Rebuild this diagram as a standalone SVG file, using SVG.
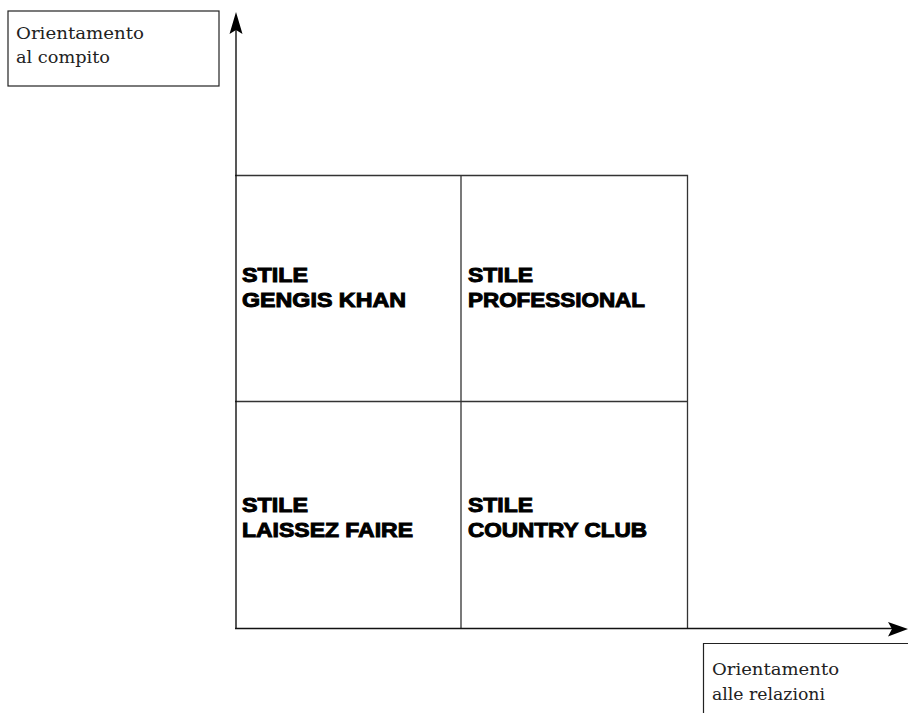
<svg xmlns="http://www.w3.org/2000/svg" width="908" height="713" viewBox="0 0 908 713">
<style>
.lbl{font-family:"DejaVu Serif","Liberation Serif",serif;font-size:16.5px;fill:#222}
.st{font-family:"Liberation Sans",Arial,sans-serif;font-weight:bold;font-size:21px;fill:#000;stroke:#000;stroke-width:1}
.grid{fill:none;stroke:#333;stroke-width:1.3}
.axis{fill:none;stroke:#111;stroke-width:1.4}
.box{fill:none;stroke:#222;stroke-width:1.2}
</style>
<rect width="908" height="713" fill="#fff"/>
<g id="label-compito">
<rect class="box" x="8" y="11" width="211" height="75"/>
<text class="lbl" x="16" y="39" textLength="128" lengthAdjust="spacingAndGlyphs">Orientamento</text>
<text class="lbl" x="16" y="63" textLength="94" lengthAdjust="spacingAndGlyphs">al compito</text>
</g>
<g id="label-relazioni">
<path class="box" d="M703.5 713 V643.5 H910"/>
<text class="lbl" x="712" y="675" textLength="127" lengthAdjust="spacingAndGlyphs">Orientamento</text>
<text class="lbl" x="712" y="700" textLength="113" lengthAdjust="spacingAndGlyphs">alle relazioni</text>
</g>
<g id="grid">
<path class="grid" d="M235 175.5 H687.5 V628 M461 175 V628 M235 401.5 H687.5"/>
</g>
<g id="connectors">
<path class="axis" d="M236 628.5 V25"/>
<path d="M236 12 L242.5 34 L236 30 L229.5 34 Z" fill="#000"/>
<path class="axis" d="M235 628.5 H896"/>
<path d="M908 629 L888 622 L892 629 L888 636.5 Z" fill="#000"/>
</g>
<g id="gengis">
<text class="st" x="242" y="282" textLength="66" lengthAdjust="spacingAndGlyphs">STILE</text>
<text class="st" x="242" y="307" textLength="164" lengthAdjust="spacingAndGlyphs">GENGIS KHAN</text>
</g>
<g id="professional">
<text class="st" x="468" y="282" textLength="65" lengthAdjust="spacingAndGlyphs">STILE</text>
<text class="st" x="468" y="307" textLength="177" lengthAdjust="spacingAndGlyphs">PROFESSIONAL</text>
</g>
<g id="laissez">
<text class="st" x="242" y="512" textLength="66" lengthAdjust="spacingAndGlyphs">STILE</text>
<text class="st" x="242" y="537" textLength="171" lengthAdjust="spacingAndGlyphs">LAISSEZ FAIRE</text>
</g>
<g id="country">
<text class="st" x="468" y="512" textLength="65" lengthAdjust="spacingAndGlyphs">STILE</text>
<text class="st" x="468" y="537" textLength="179" lengthAdjust="spacingAndGlyphs">COUNTRY CLUB</text>
</g>
</svg>
